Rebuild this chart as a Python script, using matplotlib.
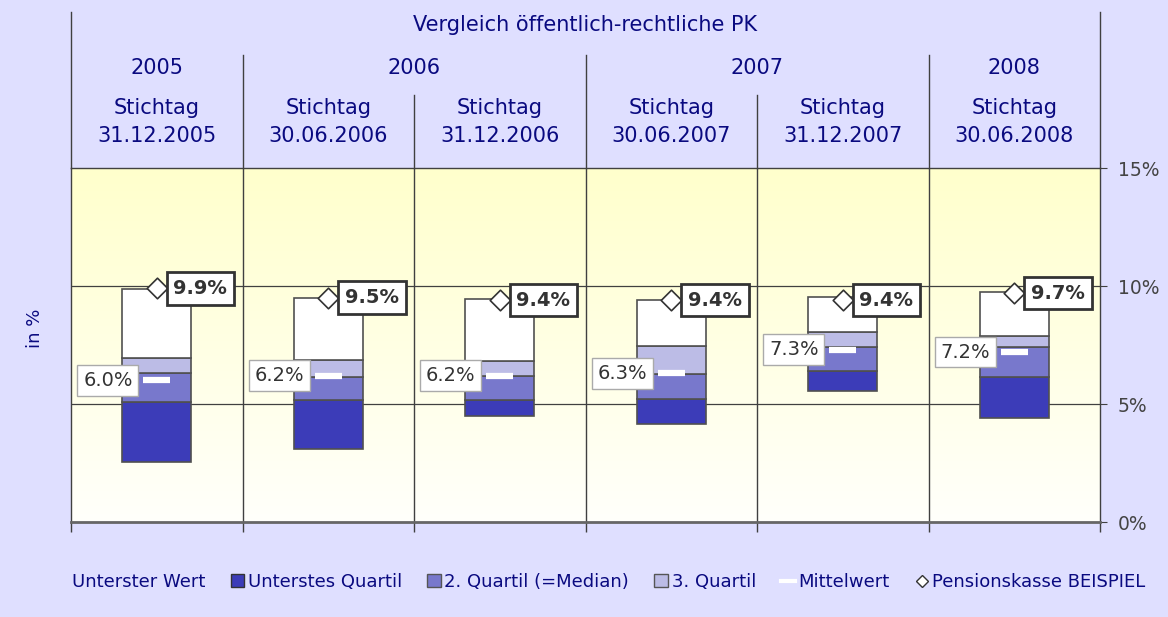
import numpy as np
import matplotlib
matplotlib.use("Agg")
import matplotlib.pyplot as plt
from matplotlib.patches import Patch
from matplotlib.lines import Line2D
from matplotlib.transforms import blended_transform_factory
from matplotlib.colors import LinearSegmentedColormap

# ---- data ----
years = ["2005", "2006", "2007", "2008"]
year_spans = [1, 2, 2, 1]
stichtage = ["31.12.2005", "30.06.2006", "31.12.2006", "30.06.2007", "31.12.2007", "30.06.2008"]
lowest = [2.55, 3.08, 4.49, 4.14, 5.56, 4.39]
q1_top = [5.07, 5.17, 5.17, 5.22, 6.38, 6.16]
median_top = [6.30, 6.13, 6.19, 6.27, 7.40, 7.40]
q3_top = [6.94, 6.86, 6.82, 7.46, 8.06, 7.88]
highest = [9.86, 9.50, 9.45, 9.41, 9.55, 9.73]
mean = [6.0, 6.2, 6.2, 6.3, 7.3, 7.2]
beispiel = [9.9, 9.5, 9.4, 9.4, 9.4, 9.7]
yticks = [0, 5, 10, 15]
ytick_labels = ["0%", "5%", "10%", "15%"]

title = "Vergleich öffentlich-rechtliche PK"
legend_labels = ["Unterster Wert", "Unterstes Quartil", "2. Quartil (=Median)",
                 "3. Quartil", "Mittelwert", "Pensionskasse BEISPIEL"]

# ---- style ----
BG = "#DFDFFF"
NAVY = "#0A0A80"
C_Q1 = "#3C3CB8"
C_MED = "#7878CC"
C_Q3 = "#BCBCE6"
C_TOP = "#FFFFFF"
LINE = "#404040"

plt.rcParams["font.family"] = ["DejaVu Sans"]

fig = plt.figure(figsize=(11.68, 6.17), dpi=100, facecolor=BG)
W, H = 1168, 617
ax = fig.add_axes([71 / W, (H - 522) / H, (1100 - 71) / W, (522 - 168) / H])
ax.set_xlim(0, 6)
ax.set_ylim(0, 15)

# gradient background
grad = np.linspace(0, 1, 256).reshape(-1, 1)
cmap = LinearSegmentedColormap.from_list("g", ["#FFFFFB", "#FFFFCC"])
ax.imshow(grad, extent=[0, 6, 0, 15], origin="lower", aspect="auto", cmap=cmap, zorder=0)

# grid lines
for v in [5, 10]:
    ax.axhline(v, color=LINE, lw=0.9, zorder=1)
for xb in range(1, 6):
    ax.axvline(xb, color=LINE, lw=1.0, zorder=1)

n = len(stichtage)
x = np.arange(n) + 0.5
bw = 0.4
segs = [
    (lowest, q1_top, C_Q1),
    (q1_top, median_top, C_MED),
    (median_top, q3_top, C_Q3),
    (q3_top, highest, C_TOP),
]
for lo, hi, col in segs:
    ax.bar(x, np.array(hi) - np.array(lo), bottom=lo, width=bw, color=col,
           edgecolor="#505050", linewidth=1.2, zorder=3)

# mean dashes + labels
for xi, m in zip(x, mean):
    ax.plot([xi - 0.08, xi + 0.08], [m, m], color="white", lw=4.5,
            solid_capstyle="butt", zorder=5)
    ax.annotate(f"{m:.1f}%", xy=(xi - 0.1, m), xytext=(-5, 0), textcoords="offset points",
                ha="right", va="center", fontsize=14, color="#333333", zorder=6,
                bbox=dict(boxstyle="square,pad=0.3", fc="white", ec="#AAAAAA", lw=1))

# beispiel diamonds + labels
ax.scatter(x, beispiel, marker="D", s=110, facecolor="white", edgecolor="#333333",
           linewidth=1.2, zorder=7)
for xi, b in zip(x, beispiel):
    ax.annotate(f"{b:.1f}%", xy=(xi, b), xytext=(12, 0), textcoords="offset points",
                ha="left", va="center", fontsize=14, fontweight="bold", color="#333333",
                zorder=8,
                bbox=dict(boxstyle="square,pad=0.35", fc="white", ec="#333333", lw=2))

# axes / spines
for s in ["left", "right", "top", "bottom"]:
    ax.spines[s].set_color(LINE)
    ax.spines[s].set_linewidth(1.0)
ax.spines["bottom"].set_color("#666666")
ax.spines["bottom"].set_linewidth(2)
ax.yaxis.tick_right()
ax.set_yticks(yticks)
ax.set_yticklabels(ytick_labels)
ax.tick_params(axis="y", which="both", right=True, left=False, length=5, color=LINE,
               labelsize=13.5, labelcolor="#444444", pad=8)
ax.set_xticks(range(0, 7))
ax.set_xticklabels([])
ax.tick_params(axis="x", length=7, color=LINE, width=1)

fig.text(35 / W, 1 - 328 / H, "in %", rotation=90, ha="center", va="center",
         fontsize=13, color=NAVY)

# header
tr = blended_transform_factory(ax.transData, fig.transFigure)
def fy(py):
    return 1 - py / H

ax.plot([0, 0], [fy(12), fy(168)], transform=tr, color=LINE, lw=1, clip_on=False)
ax.plot([6, 6], [fy(12), fy(168)], transform=tr, color=LINE, lw=1, clip_on=False)
ax.text(3, fy(25), title, transform=tr, ha="center", va="center", fontsize=15, color=NAVY)

pos = 0
for yr, span in zip(years, year_spans):
    ax.text(pos + span / 2, fy(68), yr, transform=tr, ha="center", va="center",
            fontsize=15, color=NAVY)
    if pos > 0:
        ax.plot([pos, pos], [fy(55), fy(168)], transform=tr, color=LINE, lw=1, clip_on=False)
    for k in range(1, span):
        ax.plot([pos + k, pos + k], [fy(95), fy(168)], transform=tr, color=LINE, lw=1,
                clip_on=False)
    pos += span

for xi, d in zip(x, stichtage):
    ax.text(xi, fy(122), f"Stichtag\n{d}", transform=tr, ha="center", va="center",
            fontsize=15, color=NAVY, linespacing=1.45)

# legend
handles = [
    Patch(facecolor="none", edgecolor="none"),
    Patch(facecolor=C_Q1, edgecolor="#333333"),
    Patch(facecolor=C_MED, edgecolor="#555555"),
    Patch(facecolor=C_Q3, edgecolor="#555555"),
    Line2D([0], [0], color="white", lw=3),
    Line2D([0], [0], marker="D", ls="none", markerfacecolor="white",
           markeredgecolor="#333333", markersize=6),
]
leg = fig.legend(handles, legend_labels, loc="center", bbox_to_anchor=(600 / W, 1 - 582 / H),
                 ncol=6, frameon=False, fontsize=13, handlelength=0.75, handleheight=0.75,
                 handletextpad=0.2, columnspacing=1.4)
for t in leg.get_texts():
    t.set_color(NAVY)

fig.savefig("out.png", dpi=100, facecolor=BG)
